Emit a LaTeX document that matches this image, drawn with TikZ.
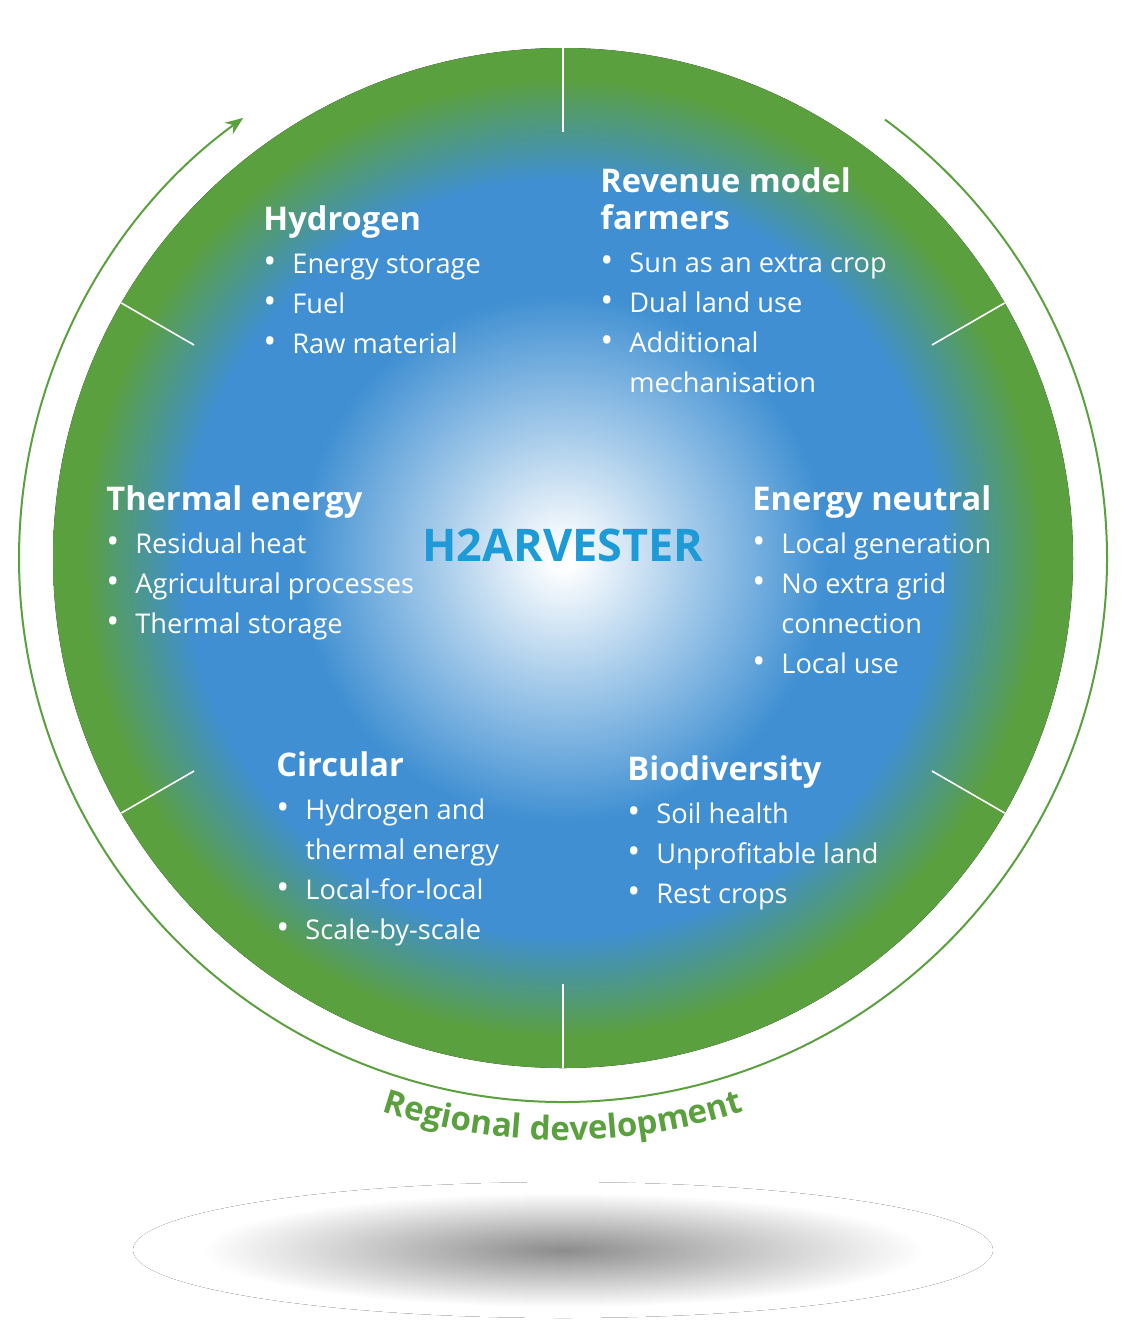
\documentclass[tikz,border=0pt]{standalone}
\usepackage{fontspec}
\setmainfont{Open Sans}
\usetikzlibrary{arrows.meta,decorations.text}
\definecolor{gr}{HTML}{5BA03F}
\definecolor{bl}{HTML}{3F8FD2}
\definecolor{tit}{HTML}{1E9BD7}
\pgfdeclareradialshading{disc}{\pgfpoint{0bp}{0bp}}{color(0bp)=(white); color(0.5bp)=(white); color(6bp)=(bl!45!white); color(13bp)=(bl); color(18.5bp)=(bl); color(23.5bp)=(gr); color(50bp)=(gr)}
\pgfdeclareradialshading{shad}{\pgfpoint{0bp}{0bp}}{color(0bp)=(black!45); color(21bp)=(white); color(50bp)=(white)}
\newcommand{\sect}[2]{{\fontsize{13.6}{20}\selectfont\begin{tabular}[t]{@{}l@{\hspace{8pt}}l@{}}#1\\[1.5pt]#2\end{tabular}}}
\newcommand{\hd}[1]{\multicolumn{2}{@{}l@{}}{\fontsize{16.3}{18}\selectfont\bfseries #1}}
\newcommand{\bu}{{\LARGE\textbullet}}
\begin{document}
\begin{tikzpicture}[x=0.5pt,y=0.5pt,
  sec/.style={anchor=base west,inner sep=0pt,text=white},
  div/.style={white,line width=0.8pt}]
\useasboundingbox (0,0) rectangle (1138,-1341);
\fill[shading=shad] (563,-1250) ellipse[x radius=215pt,y radius=34pt];
\fill[shading=disc] (563,-558) circle[radius=255pt];
\draw[gr,line width=1pt,-{Stealth[length=9pt,width=7pt]}] (563,-558) ++(53.7:272pt) arc[start angle=53.7,end angle=-234,radius=272pt];
\foreach \a in {90,30,-30,-90,-150,150}
  \draw[div] (563,-558) ++(\a:213pt) -- ++(\a:42pt);
\path[decorate,decoration={text along path,text align=center,
  text={|\bfseries\fontsize{16.5}{18}\selectfont\color{gr}|Regional development}}]
  (563,-558) ++(205:291pt) arc[start angle=205,end angle=335,radius=291pt];
\node[anchor=center,text=tit,font=\bfseries\fontsize{22.5}{24}\selectfont] (t) at (563,-545) {H2ARVESTER};
\node[sec] (h) at (263,-230) {\sect{\hd{Hydrogen}}{\bu&Energy storage\\\bu&Fuel\\\bu&Raw material}};
\node[sec] (r) at (600,-192) {\sect{\hd{Revenue model}\\[-1.5pt]\hd{farmers}}{\bu&Sun as an extra crop\\\bu&Dual land use\\\bu&Additional\\&mechanisation}};
\node[sec] (th) at (106,-510) {\sect{\hd{Thermal energy}}{\bu&Residual heat\\\bu&Agricultural processes\\\bu&Thermal storage}};
\node[sec] (en) at (752,-510) {\sect{\hd{Energy neutral}}{\bu&Local generation\\\bu&No extra grid\\&connection\\\bu&Local use}};
\node[sec] (c) at (276,-776) {\sect{\hd{Circular}}{\bu&Hydrogen and\\&thermal energy\\\bu&Local-for-local\\\bu&Scale-by-scale}};
\node[sec] (b) at (627,-780) {\sect{\hd{Biodiversity}}{\bu&Soil health\\\bu&Unprofitable land\\\bu&Rest crops}};
\end{tikzpicture}
\end{document}
